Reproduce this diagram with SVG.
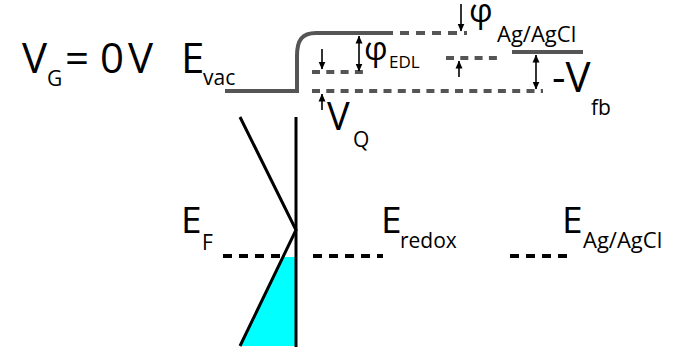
<svg xmlns="http://www.w3.org/2000/svg" width="688" height="350" viewBox="0 0 688 350">
<style>
text{font-family:"Open Sans","Liberation Sans",sans-serif;fill:#000}
.big{font-size:42px}
.mid{font-size:37px}
.sub{font-size:21px}
.phi{font-size:33px}
.g{fill:none;stroke:#555;stroke-width:4}
.gd{fill:none;stroke:#555;stroke-width:4;stroke-dasharray:8 6.3}
.k{fill:none;stroke:#000;stroke-width:3}
.kd{fill:none;stroke:#000;stroke-width:4;stroke-dasharray:9 7}
.ar{fill:none;stroke:#000;stroke-width:1.6}
</style>
<defs>
<marker id="ah" viewBox="0 0 8 8" refX="7.5" refY="4" markerWidth="8" markerHeight="8" markerUnits="userSpaceOnUse" orient="auto-start-reverse">
<path d="M0,0.5 L8,4 L0,7.5 Z" fill="#000"/>
</marker>
</defs>
<g id="title">
<text class="big" x="22" y="73">V</text><text class="sub" x="47" y="86">G</text>
<text class="big" x="65" y="73">=</text>
<text class="big" x="100" y="73">0</text>
<text class="big" x="128" y="73">V</text>
</g>
<g id="vacuum-level">
<path class="g" d="M225,91 H297 V56 C297,40 302,33 316,33 H393"/>
<text class="big" x="181" y="73">E</text><text class="sub" x="203" y="85">vac</text>
</g>
<g id="levels">
<line class="gd" x1="400" y1="33" x2="467" y2="33" style="stroke-dasharray:9 7"/>
<line class="gd" x1="312" y1="72" x2="363" y2="72"/>
<line class="gd" x1="312" y1="91" x2="543" y2="91"/>
<line class="gd" x1="446" y1="58" x2="498" y2="58"/>
<line class="g" x1="512" y1="52" x2="583" y2="52"/>
</g>
<g id="connectors">
<line class="ar" x1="359" y1="36" x2="359" y2="71" marker-start="url(#ah)" marker-end="url(#ah)"/>
<line class="ar" x1="322" y1="49" x2="322" y2="69" marker-end="url(#ah)"/>
<line class="ar" x1="322" y1="110" x2="322" y2="94" marker-end="url(#ah)"/>
<line class="ar" x1="461" y1="4" x2="461" y2="31" marker-end="url(#ah)"/>
<line class="ar" x1="459" y1="77" x2="459" y2="61" marker-end="url(#ah)"/>
<line class="ar" x1="536" y1="55" x2="536" y2="89" marker-start="url(#ah)" marker-end="url(#ah)"/>
</g>
<g id="phi-edl">
<text class="phi" x="364" y="60">φ</text><text x="389" y="68" style="font-size:17px">EDL</text>
</g>
<g id="phi-agagcl">
<text class="phi" x="469" y="22">φ</text><text class="sub" x="497" y="42" style="font-size:22px">Ag/AgCl</text>
</g>
<g id="vq">
<text x="327" y="130" style="font-size:38px">V</text><text class="sub" x="353" y="147">Q</text>
</g>
<g id="vfb">
<text class="big" x="552" y="92">-V</text><text class="sub" x="591" y="115">fb</text>
</g>
<g id="semiconductor">
<polygon points="283,257 296,257 296,346 240,346" fill="#00ffff"/>
<polyline class="k" points="240,117 296,230 240,346"/>
<line class="k" x1="296" y1="117" x2="296" y2="347"/>
</g>
<g id="fermi">
<line class="kd" x1="223" y1="256" x2="283" y2="256"/>
<line class="kd" x1="313" y1="256" x2="383" y2="256"/>
<line class="kd" x1="510" y1="256" x2="574" y2="256"/>
<text class="mid" x="181" y="233">E</text><text class="sub" x="202" y="250">F</text>
<text class="mid" x="381" y="233">E</text><text class="sub" x="400" y="248">redox</text>
<text class="mid" x="562" y="233">E</text><text class="sub" x="583" y="248" style="font-size:22px">Ag/AgCl</text>
</g>
</svg>
